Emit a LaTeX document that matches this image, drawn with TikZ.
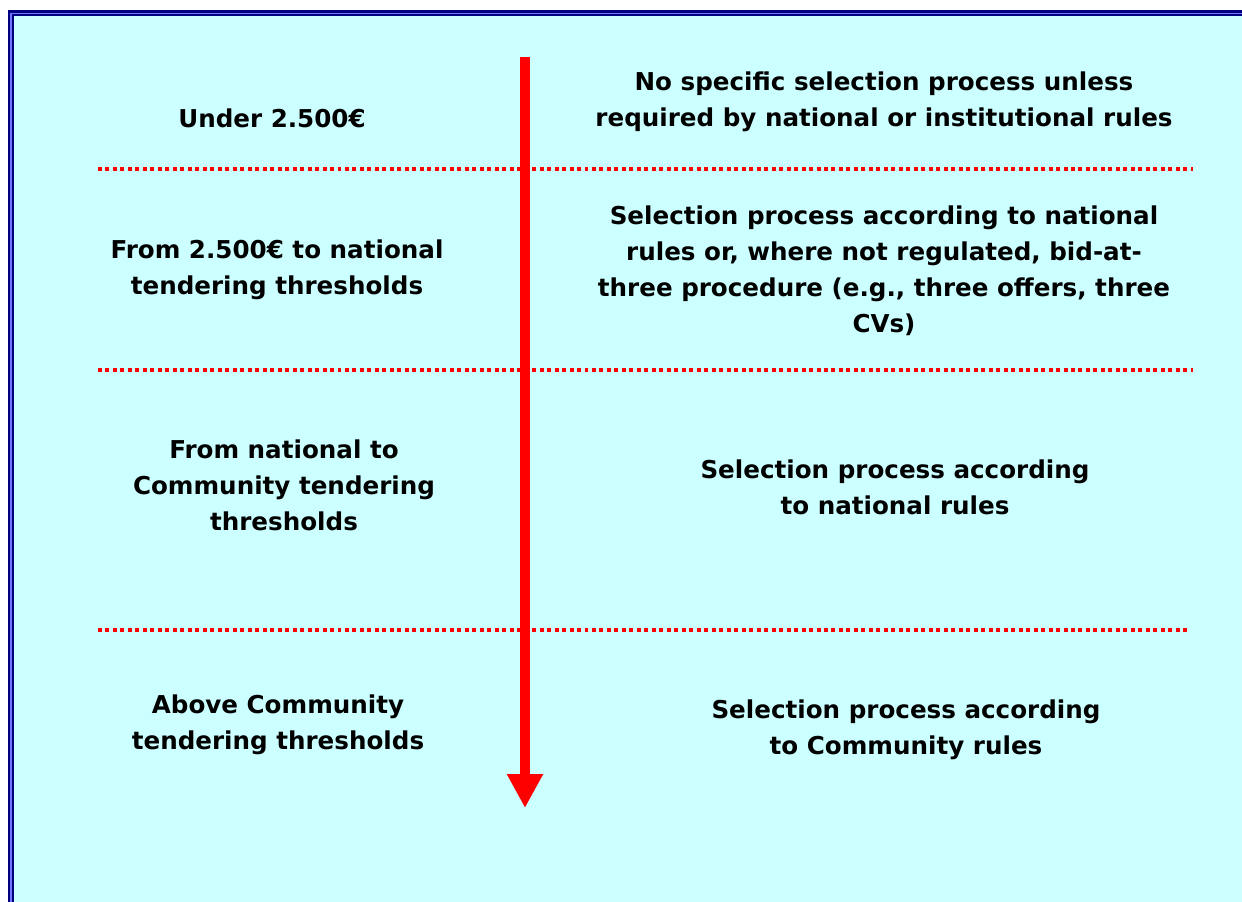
\documentclass[tikz,border=0pt]{standalone}
\usepackage{fontspec}
\setmainfont{DejaVu Sans}
\usetikzlibrary{arrows.meta}
\definecolor{panel}{HTML}{CCFFFF}
\definecolor{frameblue}{HTML}{000080}
\definecolor{arrowred}{HTML}{FF0000}

\begin{document}
\begin{tikzpicture}[x=0.02cm, y=-0.02cm,
	label/.style={font=\bfseries\fontsize{14}{20.4}\selectfont, align=center, inner sep=0pt},
	divider/.style={draw=arrowred, line width=0.08cm, dash pattern=on 2.27pt off 1.99pt}]

	\def \left {98}   % left end of the dotted lines
	\def \right {1193}

	\useasboundingbox (0,0) rectangle (1242,902);
	\fill[white] (0,0) rectangle (1242,902);
	\fill[panel] (11,13.5) rectangle (1270,930);
	\draw[frameblue, line width=0.12cm] (11,13.5) rectangle (1270,930);
	\draw[blue!55!white, line width=0.025cm] (11,13.5) rectangle (1270,930);

	% dotted separators between the bands
	\coordinate (d1a) at (\left,169);  \coordinate (d1b) at (\right,169);
	\coordinate (d2a) at (\left,370);  \coordinate (d2b) at (\right,370);
	\coordinate (d3a) at (\left,630);  \coordinate (d3b) at (1187,630);
	\draw[divider] (d1a) -- (d1b);
	\draw[divider] (d2a) -- (d2b);
	\draw[divider] (d3a) -- (d3b);

	% the amounts
	\node[label] (under) at (272,118) {Under 2.500€};
	\node[label] (lower) at (277,270) {From 2.500€ to national\\tendering thresholds};
	\node[label] (middle) at (284,485) {From national to\\Community tendering\\thresholds};
	\node[label] (above) at (278,725) {Above Community\\tendering thresholds};

	% the procedures
	\node[label] (none) at (884,102) {No specific selection process unless\\required by national or institutional rules};
	\node[label] (bid) at (884,271) {Selection process according to national\\rules or, where not regulated, bid-at-\\three procedure (e.g., three offers, three\\CVs)};
	\node[label] (national) at (895,487) {Selection process according\\to national rules};
	\node[label] (community) at (906,730) {Selection process according\\to Community rules};

	% rising amount
	\coordinate (top) at (525,57);
	\coordinate (bottom) at (525,808);
	\draw[arrowred, line width=0.2cm, -{Triangle[length=0.68cm, width=0.68cm]}] (top) -- (bottom);

\end{tikzpicture}
\end{document}
